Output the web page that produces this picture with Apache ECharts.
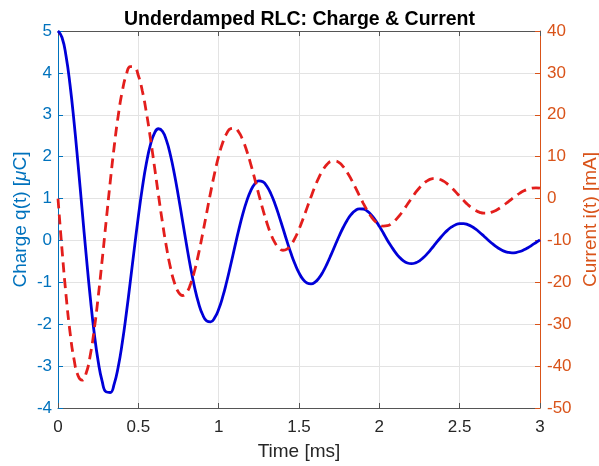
<!DOCTYPE html>
<html>
<head>
<meta charset="utf-8">
<script src="https://cdn.jsdelivr.net/npm/echarts@6/dist/echarts.min.js"></script>
<style>
  html, body { margin: 0; padding: 0; background: #fff; overflow: hidden; }
  #chart { width: 599px; height: 466px; }
</style>
</head>
<body>
<div id="chart"></div>
<script>
// time samples [ms]
var time = [
  0, 0.025, 0.05, 0.075, 0.1, 0.125, 0.15, 0.175, 0.2, 0.225, 0.25, 0.275, 0.3, 0.325, 0.35, 0.375, 0.4, 0.425, 0.45, 0.475,
  0.5, 0.525, 0.55, 0.575, 0.6, 0.625, 0.65, 0.675, 0.7, 0.725, 0.75, 0.775, 0.8, 0.825, 0.85, 0.875, 0.9, 0.925, 0.95, 0.975,
  1, 1.025, 1.05, 1.075, 1.1, 1.125, 1.15, 1.175, 1.2, 1.225, 1.25, 1.275, 1.3, 1.325, 1.35, 1.375, 1.4, 1.425, 1.45, 1.475,
  1.5, 1.525, 1.55, 1.575, 1.6, 1.625, 1.65, 1.675, 1.7, 1.725, 1.75, 1.775, 1.8, 1.825, 1.85, 1.875, 1.9, 1.925, 1.95, 1.975,
  2, 2.025, 2.05, 2.075, 2.1, 2.125, 2.15, 2.175, 2.2, 2.225, 2.25, 2.275, 2.3, 2.325, 2.35, 2.375, 2.4, 2.425, 2.45, 2.475,
  2.5, 2.525, 2.55, 2.575, 2.6, 2.625, 2.65, 2.675, 2.7, 2.725, 2.75, 2.775, 2.8, 2.825, 2.85, 2.875, 2.9, 2.925, 2.95, 2.975,
  3
];

// charge q(t) [uC]
var charge = [
  5.00, 4.845, 4.402, 3.710, 2.825, 1.810, 0.734, -0.335, -1.331, -2.198,
  -2.886, -3.365, -3.615, -3.630, -3.423, -3.016, -2.444, -1.751, -0.984, -0.194,
  0.570, 1.261, 1.841, 2.280, 2.558, 2.666, 2.605, 2.388, 2.035, 1.575,
  1.040, 0.469, -0.105, -0.643, -1.116, -1.497, -1.768, -1.918, -1.943, -1.847,
  -1.644, -1.349, -0.986, -0.581, -0.159, 0.251, 0.627, 0.945, 1.190, 1.350,
  1.420, 1.399, 1.294, 1.114, 0.875, 0.594, 0.291, -0.016, -0.307, -0.564,
  -0.775, -0.928, -1.016, -1.038, -0.996, -0.894, -0.743, -0.553, -0.339, -0.115,
  0.106, 0.309, 0.484, 0.620, 0.712, 0.755, 0.751, 0.700, 0.609, 0.485,
  0.338, 0.177, 0.006, -0.144, -0.284, -0.400, -0.486, -0.538, -0.554, -0.536,
  -0.486, -0.408, -0.310, -0.196, -0.077, 0.041, 0.151, 0.247, 0.322, 0.375,
  0.401, 0.402, 0.378, 0.333, 0.269, 0.191, 0.106, 0.018, -0.066, -0.142,
  -0.206, -0.254, -0.284, -0.296, -0.288, -0.264, -0.224, -0.173, -0.113, -0.050,
  0.014
];

// current i(t) [mA]
var current = [
  0, -12.19, -23.03, -31.93, -38.45, -42.29, -43.36, -41.71, -37.60, -31.38,
  -23.54, -14.64, -5.28, 3.95, 12.48, 19.84, 25.62, 29.55, 31.48, 31.38,
  29.37, 25.66, 20.56, 14.44, 7.74, 0.90, -5.67, -11.57, -16.48, -20.13,
  -22.38, -23.14, -22.45, -20.42, -17.24, -13.15, -8.46, -3.49, 1.47, 6.09,
  10.11, 13.31, 15.55, 16.72, 16.81, 15.87, 14.00, 11.36, 8.16, 4.62,
  0.96, -2.58, -5.78, -8.48, -10.52, -11.83, -12.34, -12.07, -11.07, -9.45,
  -7.33, -4.86, -2.22, 0.44, 2.94, 5.13, 6.90, 8.17, 8.87, 8.99,
  8.56, 7.63, 6.27, 4.59, 2.72, 0.77, -1.13, -2.87, -4.35, -5.49,
  -6.24, -6.57, -6.48, -6.00, -5.17, -4.07, -2.78, -1.37, 0.05, 1.40,
  2.59, 3.57, 4.28, 4.70, 4.81, 4.61, 4.15, 3.45, 2.58, 1.59,
  0.55, -0.47, -1.42, -2.23, -2.86, -3.29, -3.49, -3.48, -3.25, -2.83,
  -2.26, -1.58, -0.83, -0.07, 0.65, 1.31, 1.84, 2.24, 2.49, 2.57,
  2.48
];

var FONT = '"Liberation Sans", Arial, sans-serif';
var BLUE_AX = '#0072BD';
var ORANGE_AX = '#D95319';
var DARK = '#262626';
var GRID = '#e3e3e3';

function pairs(ys) {
  return time.map(function (t, k) { return [t, ys[k]]; });
}

var chart = echarts.init(document.getElementById('chart'));

var option = {
  animation: false,
  backgroundColor: '#fff',
  textStyle: { fontFamily: FONT },
  title: {
    text: 'Underdamped RLC: Charge & Current',
    left: 'center',
    top: 5,
    textStyle: { fontFamily: FONT, fontSize: 19.5, fontWeight: 'bold', color: '#000' }
  },
  grid: { left: 58, right: 59, top: 31, bottom: 58, outerBoundsMode: 'none' },
  xAxis: [{
    type: 'value',
    position: 'bottom',
    min: 0, max: 3, interval: 0.5,
    name: 'Time [ms]',
    nameLocation: 'middle',
    nameGap: 34,
    nameMoveOverlap: false,
    nameTextStyle: { fontFamily: FONT, fontSize: 19, color: DARK },
    axisLine: { onZero: false, lineStyle: { color: '#555', width: 1 } },
    axisTick: { inside: true, length: 5, lineStyle: { color: '#555' } },
    axisLabel: { fontFamily: FONT, fontSize: 17, color: DARK, margin: 11 },
    splitLine: { show: true, lineStyle: { color: GRID, width: 1 } }
  }, {
    type: 'value',
    position: 'top',
    min: 0, max: 3, interval: 0.5,
    axisLine: { show: true, onZero: false, lineStyle: { color: '#555', width: 1 } },
    axisTick: { show: true, inside: true, length: 5, lineStyle: { color: '#555' } },
    axisLabel: { show: false },
    splitLine: { show: false }
  }],
  yAxis: [{
    type: 'value',
    position: 'left',
    min: -4, max: 5, interval: 1,
    name: 'Charge q(t) [{it|μ}C]',
    nameLocation: 'middle',
    nameRotate: 90,
    nameGap: 28,
    nameMoveOverlap: false,
    nameTextStyle: {
      fontFamily: FONT, fontSize: 19, color: BLUE_AX,
      rich: { it: { fontFamily: FONT, fontSize: 19, fontStyle: 'italic', color: BLUE_AX } }
    },
    axisLine: { show: true, onZero: false, lineStyle: { color: BLUE_AX, width: 1 } },
    axisTick: { show: true, inside: true, length: 5, lineStyle: { color: BLUE_AX } },
    axisLabel: { fontFamily: FONT, fontSize: 17, color: BLUE_AX, margin: 6 },
    splitLine: { show: true, lineStyle: { color: GRID, width: 1 } }
  }, {
    type: 'value',
    position: 'right',
    min: -50, max: 40, interval: 10,
    name: 'Current i(t) [mA]',
    nameLocation: 'middle',
    nameRotate: 90,
    nameGap: 41,
    nameMoveOverlap: false,
    nameTextStyle: { fontFamily: FONT, fontSize: 19, color: ORANGE_AX },
    axisLine: { show: true, onZero: false, lineStyle: { color: ORANGE_AX, width: 1 } },
    axisTick: { show: true, inside: true, length: 5, lineStyle: { color: ORANGE_AX } },
    axisLabel: { fontFamily: FONT, fontSize: 17, color: ORANGE_AX, margin: 7 },
    splitLine: { show: false }
  }],
  series: [{
    name: 'Charge',
    type: 'line',
    xAxisIndex: 0,
    yAxisIndex: 0,
    data: pairs(charge),
    smooth: true,
    showSymbol: false,
    lineStyle: { color: '#0000d8', width: 2.8 },
    z: 3
  }, {
    name: 'Current',
    type: 'line',
    xAxisIndex: 0,
    yAxisIndex: 1,
    data: pairs(current),
    smooth: true,
    showSymbol: false,
    lineStyle: { color: '#e31e1c', width: 2.8, type: [10, 6] },
    z: 4
  }]
};

chart.setOption(option);
</script>
</body>
</html>
